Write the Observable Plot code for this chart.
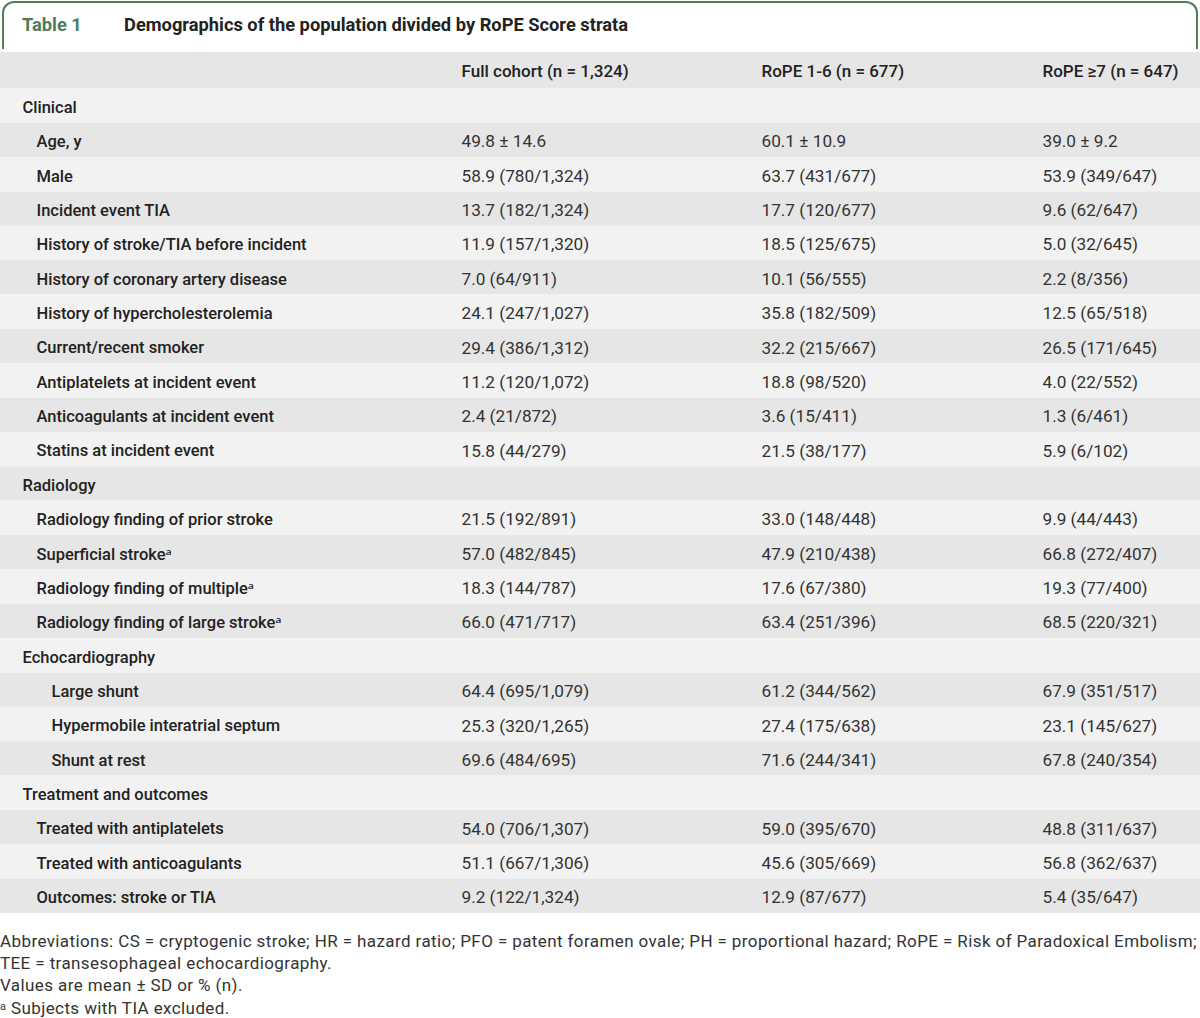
<!DOCTYPE html>
<html><head><meta charset="utf-8">
<script src="https://cdn.jsdelivr.net/npm/d3@7"></script>
<script src="https://cdn.jsdelivr.net/npm/@observablehq/plot@0.6"></script>
<style>
body{margin:0;background:#fff;font-family:Roboto,"Noto Sans",sans-serif;}
#wrap{width:1200px;height:1018px;position:relative;overflow:hidden;}
#title{box-sizing:border-box;position:absolute;left:2px;top:1px;width:1196px;height:48px;border:2px solid #4f7d5b;border-bottom:none;border-radius:12px 12px 0 0;}
#title span{position:absolute;top:11px;font-weight:700;font-size:18.3px;white-space:nowrap;}
#title .num{left:18px;color:#4f7d5b;}
#title .txt{left:120px;color:#222;}
#chart{position:absolute;left:0;top:52px;}
#chart svg{display:block;}
#notes{position:absolute;left:0;top:930px;font-size:17px;letter-spacing:0.4px;color:#333;line-height:22px;white-space:nowrap;}
</style></head>
<body><div id="wrap">
<div id="title"><span class="num">Table 1</span><span class="txt">Demographics of the population divided by RoPE Score strata</span></div>
<div id="chart"></div>
<div id="notes">Abbreviations: CS = cryptogenic stroke; HR = hazard ratio; PFO = patent foramen ovale; PH = proportional hazard; RoPE = Risk of Paradoxical Embolism;<br>TEE = transesophageal echocardiography.<br>Values are mean ± SD or % (n).<br><span style="font-size:11px;vertical-align:4px">a</span> Subjects with TIA excluded.</div>
</div>
<script>
const columnKeys = ["label", "full", "rope16", "rope7"];
const columnHeaders = ["", "Full cohort (n = 1,324)", "RoPE 1-6 (n = 677)", "RoPE ≥7 (n = 647)"];

const rowLabels = [
  "Clinical",
  "Age, y",
  "Male",
  "Incident event TIA",
  "History of stroke/TIA before incident",
  "History of coronary artery disease",
  "History of hypercholesterolemia",
  "Current/recent smoker",
  "Antiplatelets at incident event",
  "Anticoagulants at incident event",
  "Statins at incident event",
  "Radiology",
  "Radiology finding of prior stroke",
  "Superficial strokeᵃ",
  "Radiology finding of multipleᵃ",
  "Radiology finding of large strokeᵃ",
  "Echocardiography",
  "Large shunt",
  "Hypermobile interatrial septum",
  "Shunt at rest",
  "Treatment and outcomes",
  "Treated with antiplatelets",
  "Treated with anticoagulants",
  "Outcomes: stroke or TIA"
];
const rowLevels = [0,1,1,1,1,1,1,1,1,1,1,0,1,1,1,1,0,2,2,2,0,1,1,1];

const fullCohort = [
  "", "49.8 ± 14.6", "58.9 (780/1,324)", "13.7 (182/1,324)", "11.9 (157/1,320)", "7.0 (64/911)",
  "24.1 (247/1,027)", "29.4 (386/1,312)", "11.2 (120/1,072)", "2.4 (21/872)", "15.8 (44/279)",
  "", "21.5 (192/891)", "57.0 (482/845)", "18.3 (144/787)", "66.0 (471/717)",
  "", "64.4 (695/1,079)", "25.3 (320/1,265)", "69.6 (484/695)",
  "", "54.0 (706/1,307)", "51.1 (667/1,306)", "9.2 (122/1,324)"
];
const rope1to6 = [
  "", "60.1 ± 10.9", "63.7 (431/677)", "17.7 (120/677)", "18.5 (125/675)", "10.1 (56/555)",
  "35.8 (182/509)", "32.2 (215/667)", "18.8 (98/520)", "3.6 (15/411)", "21.5 (38/177)",
  "", "33.0 (148/448)", "47.9 (210/438)", "17.6 (67/380)", "63.4 (251/396)",
  "", "61.2 (344/562)", "27.4 (175/638)", "71.6 (244/341)",
  "", "59.0 (395/670)", "45.6 (305/669)", "12.9 (87/677)"
];
const rope7plus = [
  "", "39.0 ± 9.2", "53.9 (349/647)", "9.6 (62/647)", "5.0 (32/645)", "2.2 (8/356)",
  "12.5 (65/518)", "26.5 (171/645)", "4.0 (22/552)", "1.3 (6/461)", "5.9 (6/102)",
  "", "9.9 (44/443)", "66.8 (272/407)", "19.3 (77/400)", "68.5 (220/321)",
  "", "67.9 (351/517)", "23.1 (145/627)", "67.8 (240/354)",
  "", "48.8 (311/637)", "56.8 (362/637)", "5.4 (35/647)"
];

const rows = rowLabels.map((label, i) => ({
  key: "r" + i, label, level: rowLevels[i],
  full: fullCohort[i], rope16: rope1to6[i], rope7: rope7plus[i],
  shade: i % 2 === 0 ? "#f2f2f2" : "#e6e6e6"
}));
const headerRow = {key: "h", shade: "#e6e6e6"};
const headerCells = columnKeys.slice(1).map((k, j) => ({col: j + 1, text: columnHeaders[j + 1]}));
const valueCells = rows.flatMap(r => ["full", "rope16", "rope7"].filter(k => r[k]).map(k => ({key: r.key, col: columnKeys.indexOf(k), text: r[k]})));

const labelSize = 16.5, valueSize = 17.2, headSize = 17;
const chart = Plot.plot({
  width: 1200, height: 861, margin: 0, marginTop: 2,
  style: {fontFamily: "Roboto, 'Noto Sans', sans-serif", background: "transparent"},
  x: {type: "linear", domain: [0, 1, 2, 3], range: [22, 461, 761, 1042], axis: null},
  y: {type: "band", domain: ["h", ...rows.map(d => d.key)], padding: 0, round: false, axis: null},
  color: {type: "identity"},
  marks: [
    Plot.cell([headerRow], {y: "key", fill: "shade", insetTop: -2}),
    Plot.cell(rows, {y: "key", fill: "shade"}),
    Plot.text(headerCells, {x: "col", y: () => "h", text: "text", textAnchor: "start", fontSize: headSize, fontWeight: 500, fill: "#222"}),
    Plot.text(rows.filter(d => d.level === 0), {x: () => 0, y: "key", text: "label", textAnchor: "start", dy: 1.5, fontSize: labelSize, fontWeight: 500, fill: "#222"}),
    Plot.text(rows.filter(d => d.level === 1), {x: () => 0, y: "key", text: "label", textAnchor: "start", dx: 14, dy: 1.5, fontSize: labelSize, fontWeight: 500, fill: "#222"}),
    Plot.text(rows.filter(d => d.level === 2), {x: () => 0, y: "key", text: "label", textAnchor: "start", dx: 29, dy: 1.5, fontSize: labelSize, fontWeight: 500, fill: "#222"}),
    Plot.text(valueCells, {x: "col", y: "key", text: "text", textAnchor: "start", dy: 1.5, fontSize: valueSize, fill: "#333"})
  ]
});
document.getElementById("chart").appendChild(chart);
</script>
</body></html>
